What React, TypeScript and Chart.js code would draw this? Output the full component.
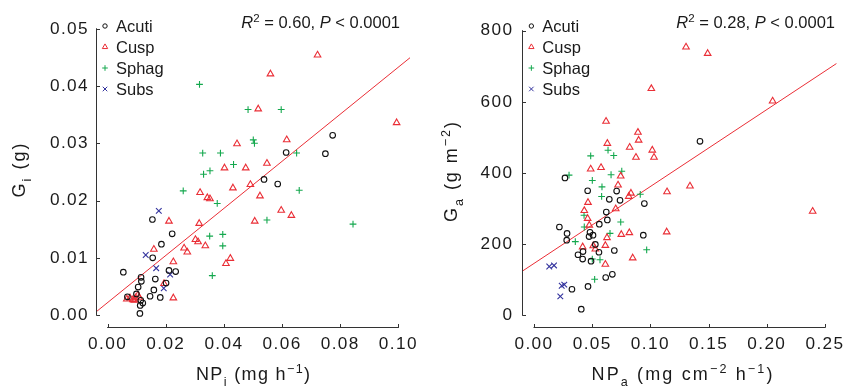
import React, { useEffect, useRef } from 'react';
import { Chart, registerables } from 'chart.js';

Chart.register(...registerables);

// ---------------- data ----------------
const speciesNames = ['Acuti', 'Cusp', 'Sphag', 'Subs'];

// Left panel: NPi (mg h-1) vs Gi (g)
const leftXTicks = [0, 0.02, 0.04, 0.06, 0.08, 0.1];
const leftYTicks = [0, 0.01, 0.02, 0.03, 0.04, 0.05];

const leftAcutiX = [0.0774, 0.0614, 0.0749, 0.0538, 0.0585, 0.0154, 0.0222, 0.0185, 0.0155, 0.0054, 0.0211, 0.0234, 0.0115, 0.0116, 0.0164, 0.0201, 0.0105, 0.0159, 0.0099, 0.0146, 0.0181, 0.0068, 0.0114, 0.0121, 0.0112, 0.0111];
const leftAcutiY = [0.0314, 0.0284, 0.0282, 0.0237, 0.0229, 0.0167, 0.0142, 0.0124, 0.0100, 0.0075, 0.0078, 0.0076, 0.0066, 0.0059, 0.0063, 0.0056, 0.0049, 0.0044, 0.0037, 0.0033, 0.0031, 0.0032, 0.0026, 0.0021, 0.0017, 0.0003];

const leftCuspX = [0.0722, 0.0560, 0.0518, 0.0994, 0.0616, 0.0445, 0.0402, 0.0475, 0.0548, 0.0318, 0.0431, 0.0491, 0.0524, 0.0343, 0.0352, 0.0597, 0.0632, 0.0506, 0.0211, 0.0315, 0.0302, 0.0311, 0.0336, 0.0263, 0.0274, 0.0159, 0.0226, 0.0422, 0.0407, 0.0194, 0.0226, 0.0066, 0.0077, 0.0087, 0.0096, 0.0104, 0.0108, 0.0092];
const leftCuspY = [0.0454, 0.0421, 0.0360, 0.0336, 0.0306, 0.0299, 0.0257, 0.0257, 0.0265, 0.0214, 0.0222, 0.0228, 0.0208, 0.0205, 0.0203, 0.0183, 0.0174, 0.0164, 0.0164, 0.0160, 0.0132, 0.0128, 0.0121, 0.0117, 0.0110, 0.0115, 0.0093, 0.0099, 0.0090, 0.0055, 0.0030, 0.0028, 0.0030, 0.0027, 0.0030, 0.0035, 0.0031, 0.0026];

const leftSphagX = [0.0316, 0.0483, 0.0597, 0.0501, 0.0505, 0.0650, 0.0327, 0.0388, 0.0433, 0.0330, 0.0352, 0.0260, 0.0659, 0.0377, 0.0548, 0.0844, 0.0351, 0.0396, 0.0396, 0.0360];
const leftSphagY = [0.0403, 0.0359, 0.0359, 0.0306, 0.0300, 0.0283, 0.0283, 0.0283, 0.0263, 0.0246, 0.0252, 0.0217, 0.0218, 0.0195, 0.0166, 0.0159, 0.0138, 0.0141, 0.0121, 0.0069];

const leftSubsX = [0.0176, 0.0131, 0.0167, 0.0215, 0.0193];
const leftSubsY = [0.0182, 0.0105, 0.0082, 0.0071, 0.0047];

const leftIntercept = 0.0022;
const leftSlope = 0.411;
const leftR2 = '0.60';

// Right panel: NPa (mg cm-2 h-1) vs Ga (g m-2)
const rightXTicks = [0, 0.05, 0.1, 0.15, 0.2, 0.25];
const rightYTicks = [0, 200, 400, 600, 800];

const rightAcutiX = [0.1426, 0.0266, 0.0461, 0.0710, 0.0647, 0.0739, 0.0948, 0.0621, 0.0630, 0.0561, 0.0218, 0.0481, 0.0507, 0.0473, 0.0284, 0.0281, 0.0939, 0.0527, 0.0421, 0.0378, 0.0418, 0.0558, 0.0690, 0.0490, 0.0616, 0.0673, 0.0326, 0.0464, 0.0406];
const rightAcutiY = [489, 386, 350, 349, 326, 323, 314, 290, 268, 256, 248, 233, 225, 221, 230, 211, 225, 199, 179, 170, 158, 177, 182, 152, 106, 115, 73, 81, 17];

const rightCuspX = [0.1306, 0.1492, 0.1008, 0.2050, 0.0619, 0.0893, 0.0899, 0.0630, 0.0822, 0.1016, 0.0876, 0.1031, 0.0487, 0.0576, 0.0745, 0.0722, 0.1340, 0.1143, 0.0833, 0.0814, 0.0464, 0.0702, 0.0432, 0.2394, 0.0461, 0.0475, 0.0750, 0.0819, 0.1140, 0.0627, 0.0613, 0.0418, 0.0509, 0.0527, 0.0848, 0.0613];
const rightCuspY = [754, 736, 637, 602, 545, 514, 492, 483, 472, 464, 444, 444, 411, 415, 391, 366, 363, 347, 343, 334, 317, 299, 294, 292, 272, 253, 227, 232, 234, 218, 196, 192, 195, 186, 161, 143];

const rightSphagX = [0.0636, 0.0685, 0.0487, 0.0754, 0.0301, 0.0662, 0.0501, 0.0584, 0.0913, 0.0581, 0.0430, 0.0745, 0.0432, 0.0653, 0.0355, 0.0968, 0.0501, 0.0567, 0.0521];
const rightSphagY = [464, 449, 448, 405, 394, 395, 379, 361, 340, 334, 281, 262, 248, 230, 207, 184, 158, 156, 101];

const rightSubsX = [0.0131, 0.0172, 0.0238, 0.0260, 0.0226];
const rightSubsY = [137, 140, 83, 86, 53];

const rightIntercept = 145.6;
const rightSlope = 2163;
const rightR2 = '0.28';

// ---------------- styles ----------------
const FONT = "'Liberation Sans', Arial, Helvetica, sans-serif";
const TEXT = '#1a1a1a';
const speciesStyles = [
  { color: '#111111', pointStyle: 'circle', radius: 2.8, legendRadius: 2.2 },
  { color: '#ea2e36', pointStyle: 'triangle', radius: 3.8, legendRadius: 3.1 },
  { color: '#14a84e', pointStyle: 'cross', radius: 3.4, legendRadius: 2.8 },
  { color: '#34349e', pointStyle: 'crossRot', radius: 4.0, legendRadius: 3.2 },
];
const lineColor = '#ea2e36';

type Seg = { t: string; sub?: boolean; sup?: boolean; it?: boolean };

function drawRich(ctx: CanvasRenderingContext2D, segs: Seg[], x: number, y: number, size: number, align: 'left' | 'center' | 'right', target?: number) {
  const chars: { ch: string; f: string; w: number; dy: number }[] = [];
  for (const sg of segs) {
    const s = sg.sub || sg.sup ? size * 0.7 : size;
    const f = `${sg.it ? 'italic ' : ''}${s}px ${FONT}`;
    ctx.font = f;
    for (const ch of sg.t) {
      chars.push({ ch, f, w: ctx.measureText(ch).width, dy: sg.sub ? size * 0.36 : sg.sup ? -size * 0.38 : 0 });
    }
  }
  const natural = chars.reduce((a, c) => a + c.w, 0);
  const extra = target ? Math.max(0, (target - natural) / Math.max(1, chars.length - 1)) : 0;
  const total = natural + extra * (chars.length - 1);
  let cx = align === 'left' ? x : align === 'center' ? x - total / 2 : x - total;
  ctx.textAlign = 'left';
  ctx.textBaseline = 'alphabetic';
  for (const c of chars) {
    ctx.font = c.f;
    ctx.fillText(c.ch, cx, y + c.dy);
    cx += c.w + extra;
  }
}

function drawSymbol(ctx: CanvasRenderingContext2D, style: string, x: number, y: number, r: number) {
  ctx.beginPath();
  if (style === 'circle') {
    ctx.arc(x, y, r, 0, Math.PI * 2);
  } else if (style === 'triangle') {
    ctx.moveTo(x, y - r);
    ctx.lineTo(x + 0.866 * r, y + 0.5 * r);
    ctx.lineTo(x - 0.866 * r, y + 0.5 * r);
    ctx.closePath();
  } else if (style === 'cross') {
    ctx.moveTo(x - r, y); ctx.lineTo(x + r, y);
    ctx.moveTo(x, y - r); ctx.lineTo(x, y + r);
  } else {
    const d = r * 0.7071;
    ctx.moveTo(x - d, y - d); ctx.lineTo(x + d, y + d);
    ctx.moveTo(x - d, y + d); ctx.lineTo(x + d, y - d);
  }
  ctx.stroke();
}

const rExtent = (ticks: number[]) => {
  const a = ticks[0], b = ticks[ticks.length - 1];
  const pad = (b - a) * 0.04;
  return [a - pad, b + pad];
};

type Panel = {
  canvasLeft: number; width: number; yAxisWidth: number; padRight: number; yTickPad: number;
  xTicks: number[]; yTicks: number[]; xFmt: (v: number) => string; yFmt: (v: number) => string;
  series: { xs: number[]; ys: number[] }[]; intercept: number; slope: number; r2: string;
  xTitle: Seg[]; xTitleCx: number; xTitleW: number;
  yTitle: Seg[]; yTitleX: number; yTitleCy: number; yTitleW: number; annRight: number;
};

const panels: Panel[] = [
  {
    canvasLeft: 0, width: 428, yAxisWidth: 96, padRight: 18, yTickPad: 7,
    xTicks: leftXTicks, yTicks: leftYTicks, xFmt: (v) => v.toFixed(2), yFmt: (v) => v.toFixed(2),
    series: [
      { xs: leftAcutiX, ys: leftAcutiY }, { xs: leftCuspX, ys: leftCuspY },
      { xs: leftSphagX, ys: leftSphagY }, { xs: leftSubsX, ys: leftSubsY },
    ],
    intercept: leftIntercept, slope: leftSlope, r2: leftR2,
    xTitle: [{ t: 'NP' }, { t: 'i', sub: true }, { t: ' (mg h' }, { t: '\u22121', sup: true }, { t: ')' }],
    xTitleCx: 253, xTitleW: 114,
    yTitle: [{ t: 'G' }, { t: 'i', sub: true }, { t: ' (g)' }],
    yTitleX: 25, yTitleCy: 170.5, yTitleW: 54, annRight: 400,
  },
  {
    canvasLeft: 428, width: 427, yAxisWidth: 94.36, padRight: 18.36, yTickPad: 9,
    xTicks: rightXTicks, yTicks: rightYTicks, xFmt: (v) => v.toFixed(2), yFmt: (v) => String(Math.round(v)),
    series: [
      { xs: rightAcutiX, ys: rightAcutiY }, { xs: rightCuspX, ys: rightCuspY },
      { xs: rightSphagX, ys: rightSphagY }, { xs: rightSubsX, ys: rightSubsY },
    ],
    intercept: rightIntercept, slope: rightSlope, r2: rightR2,
    xTitle: [{ t: 'NP' }, { t: 'a', sub: true }, { t: ' (mg cm' }, { t: '\u22122', sup: true }, { t: ' h' }, { t: '\u22121', sup: true }, { t: ')' }],
    xTitleCx: 254, xTitleW: 181,
    yTitle: [{ t: 'G' }, { t: 'a', sub: true }, { t: ' (g m' }, { t: '\u22122', sup: true }, { t: ')' }],
    yTitleX: 29, yTitleCy: 172, yTitleW: 100, annRight: 407,
  },
];

function makeChart(canvas: HTMLCanvasElement, p: Panel) {
  const [xMin, xMax] = rExtent(p.xTicks);
  const [yMin, yMax] = rExtent(p.yTicks);

  const datasets: any[] = p.series.map((s, i) => ({
    type: 'scatter',
    label: speciesNames[i],
    data: s.xs.map((x, j) => ({ x, y: s.ys[j] })),
    pointStyle: speciesStyles[i].pointStyle,
    pointRadius: speciesStyles[i].radius,
    pointBorderWidth: 1.1,
    borderColor: speciesStyles[i].color,
    pointBorderColor: speciesStyles[i].color,
    backgroundColor: 'rgba(0,0,0,0)',
    pointBackgroundColor: 'rgba(0,0,0,0)',
    showLine: false,
  }));
  datasets.push({
    type: 'line',
    label: 'fit',
    data: [xMin, xMax].map((x) => ({ x, y: p.intercept + p.slope * x })),
    borderColor: lineColor,
    borderWidth: 1,
    pointRadius: 0,
    fill: false,
  });

  const decor = {
    id: 'decor' + p.canvasLeft,
    beforeDraw(chart: any) {
      (chart.ctx as any).letterSpacing = '1.4px';
    },
    afterDraw(chart: any) {
      const ctx: CanvasRenderingContext2D = chart.ctx;
      const { left, bottom } = chart.chartArea;
      const xs = chart.scales.x, ys = chart.scales.y;
      ctx.save();
      (ctx as any).letterSpacing = '0px';
      // axes (R style: only across tick range, inward ticks)
      ctx.strokeStyle = '#333';
      ctx.lineWidth = 1;
      ctx.beginPath();
      const ax = Math.round(left) + 0.5;
      ctx.moveTo(ax, ys.getPixelForValue(p.yTicks[0]) + 0.5);
      ctx.lineTo(ax, ys.getPixelForValue(p.yTicks[p.yTicks.length - 1]) - 0.5);
      for (const v of p.yTicks) {
        const py = Math.round(ys.getPixelForValue(v)) + 0.5;
        ctx.moveTo(ax, py); ctx.lineTo(ax + 3.5, py);
      }
      const by = Math.round(bottom) + 0.5;
      ctx.moveTo(xs.getPixelForValue(p.xTicks[0]) - 0.5, by);
      ctx.lineTo(xs.getPixelForValue(p.xTicks[p.xTicks.length - 1]) + 0.5, by);
      for (const v of p.xTicks) {
        const px = Math.round(xs.getPixelForValue(v)) + 0.5;
        ctx.moveTo(px, by); ctx.lineTo(px, by - 3.5);
      }
      ctx.stroke();

      // legend
      const rowY = [26, 47, 68, 89];
      speciesNames.forEach((name, i) => {
        const st = speciesStyles[i];
        ctx.strokeStyle = st.color;
        ctx.lineWidth = 1;
        drawSymbol(ctx, st.pointStyle, left + 9, rowY[i], st.legendRadius);
        ctx.fillStyle = TEXT;
        drawRich(ctx, [{ t: name }], left + 20, rowY[i] + 6, 16.5, 'left');
      });

      // annotation
      ctx.fillStyle = TEXT;
      drawRich(ctx, [{ t: 'R', it: true }, { t: '2', sup: true }, { t: ' = ' + p.r2 + ', ' }, { t: 'P', it: true }, { t: ' < 0.0001' }], p.annRight, 28.3, 16.5, 'right');

      // axis titles
      drawRich(ctx, p.xTitle, p.xTitleCx, 380, 18, 'center', p.xTitleW);
      ctx.save();
      ctx.translate(p.yTitleX, p.yTitleCy);
      ctx.rotate(-Math.PI / 2);
      drawRich(ctx, p.yTitle, 0, 0, 18, 'center', p.yTitleW);
      ctx.restore();
      ctx.restore();
    },
  };

  const tickFont = { family: FONT, size: 17.2 };

  return new Chart(canvas, {
    type: 'scatter',
    data: { datasets },
    options: {
      responsive: false,
      animation: false,
      events: [],
      layout: { padding: { left: 0, right: p.padRight, top: 13.4, bottom: 0 } },
      plugins: { legend: { display: false }, tooltip: { enabled: false }, title: { display: false } },
      scales: {
        x: {
          type: 'linear',
          min: xMin,
          max: xMax,
          grid: { display: false, drawTicks: false },
          border: { display: false },
          afterBuildTicks: (s: any) => { s.ticks = p.xTicks.map((v) => ({ value: v })); },
          afterFit: (s: any) => { s.height = 390 - 326.6; },
          ticks: { callback: (v: any) => p.xFmt(Number(v)), font: tickFont, color: TEXT, padding: 7, maxRotation: 0, autoSkip: false },
        },
        y: {
          type: 'linear',
          min: yMin,
          max: yMax,
          grid: { display: false, drawTicks: false },
          border: { display: false },
          afterBuildTicks: (s: any) => { s.ticks = p.yTicks.map((v) => ({ value: v })); },
          afterFit: (s: any) => { s.width = p.yAxisWidth; },
          ticks: { callback: (v: any) => p.yFmt(Number(v)), font: tickFont, color: TEXT, padding: p.yTickPad, autoSkip: false },
        },
      },
    } as any,
    plugins: [decor],
  });
}

function PanelCanvas({ p }: { p: Panel }) {
  const ref = useRef<HTMLCanvasElement | null>(null);
  useEffect(() => {
    if (!ref.current) return;
    const chart = makeChart(ref.current, p);
    return () => chart.destroy();
  }, [p]);
  return (
    <canvas
      ref={ref}
      width={p.width}
      height={390}
      style={{ position: 'absolute', left: p.canvasLeft, top: 0, width: p.width, height: 390 }}
    />
  );
}

export default function App() {
  return (
    <div style={{ position: 'fixed', left: 0, top: 0, width: 855, height: 390, background: '#fff' }}>
      {panels.map((p) => (
        <PanelCanvas key={p.canvasLeft} p={p} />
      ))}
    </div>
  );
}
